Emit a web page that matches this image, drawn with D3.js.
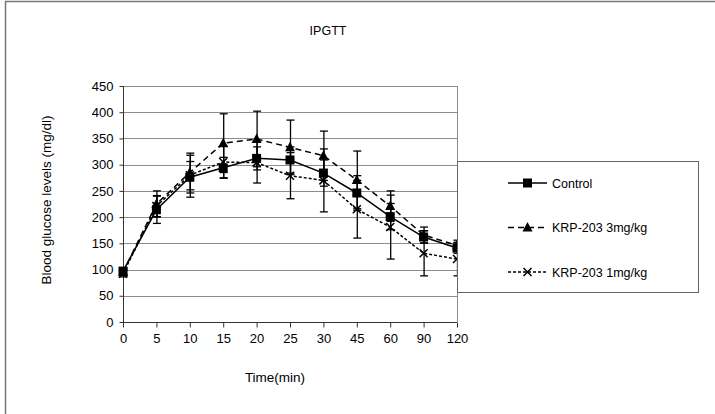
<!DOCTYPE html>
<html>
<head>
<meta charset="utf-8">
<script src="https://cdn.jsdelivr.net/npm/d3@7"></script>
<style>
  body { margin: 0; background: #fff; }
  svg { display: block; font-family: "Liberation Sans", Arial, sans-serif; }
  .grid line { stroke: #8c8c8c; stroke-width: 1; }
  .axis text { font-size: 13px; fill: #000; }
  .axis path, .axis line { stroke: #333; }
</style>
</head>
<body>
<svg id="viz"></svg>
<script>
(function () {
    let times = ['0', '5', '10', '15', '20', '25', '30', '45', '60', '90', '120']
    let controlMean = [97, 214, 276, 294, 312, 309, 284, 246, 201, 162, 141]
    let controlErr = [6, 26, 30, 20, 22, 25, 25, 33, 25, 12, 10]
    let krp3Mean = [95, 225, 285, 341, 349, 333, 317, 271, 221, 166, 146]
    let krp3Err = [6, 25, 33, 56, 53, 52, 47, 55, 29, 15, 10]
    let krp1Mean = [92, 221, 280, 305, 304, 279, 270, 215, 181, 131, 120]
    let krp1Err = [6, 20, 42, 30, 39, 44, 60, 55, 61, 43, 32]
    let seriesNames = ['Control', 'KRP-203 3mg/kg', 'KRP-203 1mg/kg']
    let yTicks = [0, 50, 100, 150, 200, 250, 300, 350, 400, 450]

    let config = {
        width: 715,
        height: 414,
        plot: { left: 123, right: 457, top: 86, bottom: 322 }
    }

    let series = [
        { name: seriesNames[0], mean: controlMean, err: controlErr, dash: null, marker: 'square' },
        { name: seriesNames[1], mean: krp3Mean, err: krp3Err, dash: '6,4', marker: 'triangle' },
        { name: seriesNames[2], mean: krp1Mean, err: krp1Err, dash: '3,2', marker: 'cross' }
    ]

    let svg = d3.select('#viz')
        .attr('width', config.width)
        .attr('height', config.height)

    // outer frame
    svg.append('rect')
        .attr('x', 5.5).attr('y', 1.5)
        .attr('width', 720).attr('height', 430)
        .attr('fill', 'none').attr('stroke', '#777').attr('stroke-width', 1.5)

    let p = config.plot
    let xScale = d3.scalePoint().domain(times).range([p.left, p.right]).padding(0)
    let yScale = d3.scaleLinear().domain([0, 450]).range([p.bottom, p.top])

    // gridlines
    svg.append('g').attr('class', 'grid')
        .selectAll('line').data(yTicks.filter(d => d > 0)).enter()
        .append('line')
        .attr('x1', p.left).attr('x2', p.right)
        .attr('y1', d => Math.round(yScale(d)) + 0.5)
        .attr('y2', d => Math.round(yScale(d)) + 0.5)
    svg.append('line')
        .attr('x1', p.right + 0.5).attr('x2', p.right + 0.5)
        .attr('y1', p.top).attr('y2', p.bottom)
        .attr('stroke', '#8c8c8c')

    // axes
    let yAxis = d3.axisLeft(yScale).tickValues(yTicks).tickSize(4).tickPadding(6)
    svg.append('g').attr('class', 'axis')
        .attr('transform', 'translate(' + (p.left + 0.5) + ',0)')
        .call(yAxis)
        .call(g => g.select('.domain').attr('d', 'M0,' + p.top + 'V' + p.bottom))
    let xAxis = d3.axisBottom(xScale).tickSize(5).tickPadding(6)
    svg.append('g').attr('class', 'axis')
        .attr('transform', 'translate(0,' + (p.bottom + 0.5) + ')')
        .call(xAxis)
        .call(g => g.select('.domain').attr('d', 'M' + p.left + ',0H' + p.right))

    // titles
    svg.append('text')
        .attr('x', 328).attr('y', 35)
        .attr('text-anchor', 'middle')
        .attr('font-size', 12.5)
        .text('IPGTT')
    svg.append('text')
        .attr('transform', 'translate(51,' + ((p.top + p.bottom) / 2 - 4) + ') rotate(-90)')
        .attr('text-anchor', 'middle')
        .attr('font-size', 13.5)
        .text('Blood glucose levels (mg/dl)')
    svg.append('text')
        .attr('x', 275).attr('y', 382)
        .attr('text-anchor', 'middle')
        .attr('font-size', 13.5)
        .text('Time(min)')

    function drawMarker(g, type, x, y) {
        if (type === 'square') {
            g.append('rect')
                .attr('x', x - 4.5).attr('y', y - 4.5)
                .attr('width', 9).attr('height', 9)
                .attr('fill', '#000')
        } else if (type === 'triangle') {
            g.append('path')
                .attr('d', 'M' + x + ',' + (y - 5.5) + 'L' + (x + 5) + ',' + (y + 4) + 'L' + (x - 5) + ',' + (y + 4) + 'Z')
                .attr('fill', '#000')
        } else {
            g.append('path')
                .attr('d', 'M' + (x - 4) + ',' + (y - 4) + 'L' + (x + 4) + ',' + (y + 4) + 'M' + (x + 4) + ',' + (y - 4) + 'L' + (x - 4) + ',' + (y + 4))
                .attr('stroke', '#000').attr('stroke-width', 1.5)
        }
    }

    let line = d3.line()
        .x((d, i) => xScale(times[i]))
        .y(d => yScale(d))

    series.forEach(s => {
        let g = svg.append('g')
        // error bars
        s.mean.forEach((m, i) => {
            let x = xScale(times[i]) + 0.5
            let y1 = yScale(m + s.err[i])
            let y2 = yScale(m - s.err[i])
            g.append('line').attr('x1', x).attr('x2', x).attr('y1', y1).attr('y2', y2)
                .attr('stroke', '#000').attr('stroke-width', 1.3)
            ;[y1, y2].forEach(yy => {
                g.append('line').attr('x1', x - 4).attr('x2', x + 4).attr('y1', yy).attr('y2', yy)
                    .attr('stroke', '#000').attr('stroke-width', 1.3)
            })
        })
        g.append('path')
            .datum(s.mean)
            .attr('d', line)
            .attr('fill', 'none')
            .attr('stroke', '#000')
            .attr('stroke-width', 1.5)
            .attr('stroke-dasharray', s.dash)
        s.mean.forEach((m, i) => drawMarker(g, s.marker, xScale(times[i]), yScale(m)))
    })

    // legend
    let legend = svg.append('g')
    legend.append('rect')
        .attr('x', 457.5).attr('y', 161.5)
        .attr('width', 241).attr('height', 131)
        .attr('fill', '#fff').attr('stroke', '#666').attr('stroke-width', 1)
    series.forEach((s, i) => {
        let ly = 183 + i * 44.5
        legend.append('line')
            .attr('x1', 508).attr('x2', 547).attr('y1', ly).attr('y2', ly)
            .attr('stroke', '#000').attr('stroke-width', 1.5)
            .attr('stroke-dasharray', s.dash)
        drawMarker(legend, s.marker, 527.5, ly)
        legend.append('text')
            .attr('x', 552).attr('y', ly + 4.5)
            .attr('font-size', 12.5)
            .text(s.name)
    })
})()
</script>
</body>
</html>
